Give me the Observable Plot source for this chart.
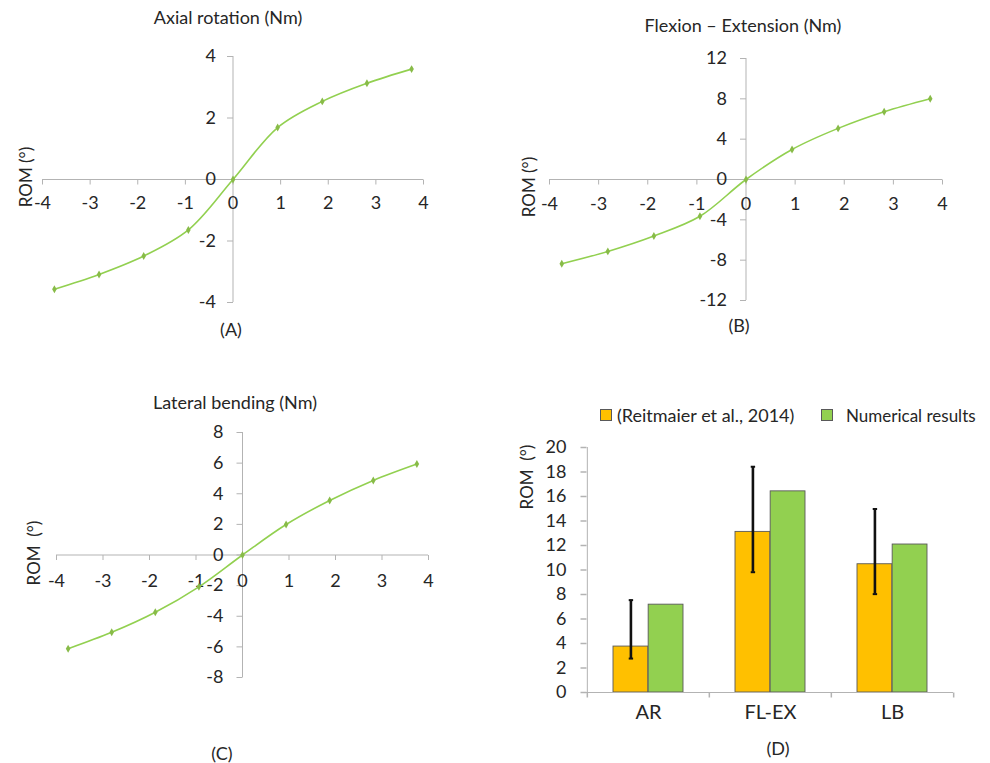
<!DOCTYPE html>
<html>
<head>
<meta charset="utf-8">
<script src="https://cdn.jsdelivr.net/npm/d3@7"></script>
<script src="https://cdn.jsdelivr.net/npm/@observablehq/plot@0.6"></script>
<style>
  html, body { margin: 0; padding: 0; background: #fff; }
  #root { position: relative; width: 990px; height: 763px; font-family: Lato, sans-serif; color: #262626; overflow: hidden; }
  .panel { position: absolute; }
  .lbl { position: absolute; white-space: pre; transform: translate(-50%, -50%); line-height: 1; }
  .sw { position: absolute; width: 10px; height: 10px; border: 1px solid #595959; }
</style>
</head>
<body>
<div id="root"></div>
<script>
// ---------------- data ----------------
const torque = [-3.75, -2.8125, -1.875, -0.9375, 0, 0.9375, 1.875, 2.8125, 3.75];
const romAR = [-3.57, -3.09, -2.49, -1.64, 0, 1.69, 2.54, 3.13, 3.59];
const romFE = [-8.35, -7.13, -5.6, -3.65, 0, 2.98, 5.07, 6.72, 8.01];
const romLB = [-6.12, -5.05, -3.74, -2.08, 0, 1.99, 3.56, 4.87, 5.94];
const xTicks = [-4, -3, -2, -1, 0, 1, 2, 3, 4];
const yTicksAR = [-4, -2, 0, 2, 4];
const yTicksFE = [-12, -8, -4, 0, 4, 8, 12];
const yTicksLB = [-8, -6, -4, -2, 0, 2, 4, 6, 8];

const categories = ["AR", "FL-EX", "LB"];
const reference = [3.75, 13.11, 10.47];
const referenceLow = [2.77, 9.82, 8.03];
const referenceHigh = [7.54, 18.43, 14.98];
const numerical = [7.17, 16.42, 12.08];
const barTicks = [0, 2, 4, 6, 8, 10, 12, 14, 16, 18, 20];
const seriesNames = ["(Reitmaier et al., 2014)", "Numerical results"];

// ---------------- styles ----------------
const FONT = "Lato, sans-serif";
const TEXT = "#262626";
const AXIS = "#b3b3b3";
const LINE_GREEN = "#92D050";
const MARK_GREEN = "#88bb48";
const YELLOW = "#FFC000";
const GREEN = "#92D050";
const BAR_STROKE = "#595959";
const TICK_FS = "18px";

const root = document.getElementById("root");

function label(text, cx, cy, opts = {}) {
  const d = document.createElement("div");
  d.className = "lbl";
  d.textContent = text;
  d.style.left = cx + "px";
  d.style.top = cy + "px";
  d.style.fontSize = (opts.size || 18) + "px";
  if (opts.rotate) d.style.transform = "translate(-50%, -50%) rotate(-90deg)";
  if (opts.left) { d.style.transform = "translate(0, -50%)"; }
  root.appendChild(d);
  return d;
}

// custom tick symbols (drawn relative to the scaled point)
const tickDown = {draw(ctx) { ctx.moveTo(0, 0); ctx.lineTo(0, 5); }};
const tickLeft = {draw(ctx) { ctx.moveTo(0, 0); ctx.lineTo(-6, 0); }};
const capLine = {draw(ctx) { ctx.moveTo(-2.2, 0); ctx.lineTo(2.2, 0); }};

function linePanel({left, top, width, height, margins, yTicks, values, xLabelDy, yLabelDx}) {
  const rows = torque.map((t, i) => ({t, v: values[i]}));
  const svg = Plot.plot({
    width, height,
    marginLeft: margins[0], marginRight: margins[1], marginTop: margins[2], marginBottom: margins[3],
    x: {domain: [xTicks[0], xTicks[xTicks.length - 1]], axis: null},
    y: {domain: [yTicks[0], yTicks[yTicks.length - 1]], axis: null},
    style: {fontFamily: FONT, fontSize: TICK_FS, color: TEXT, background: "transparent", overflow: "visible"},
    marks: [
      Plot.ruleY([0], {stroke: AXIS, strokeWidth: 1}),
      Plot.ruleX([0], {stroke: AXIS, strokeWidth: 1}),
      Plot.dot(xTicks, {x: d => d, y: 0, symbol: tickDown, stroke: AXIS, fill: "none", strokeWidth: 1}),
      Plot.dot(yTicks, {x: 0, y: d => d, symbol: tickLeft, stroke: AXIS, fill: "none", strokeWidth: 1}),
      Plot.text(xTicks, {x: d => d, y: 0, dy: xLabelDy, text: d => String(d), fill: TEXT}),
      Plot.text(yTicks, {x: 0, y: d => d, dx: yLabelDx, text: d => String(d), textAnchor: "end", fill: TEXT}),
      Plot.line(rows, {x: "t", y: "v", curve: "catmull-rom", stroke: LINE_GREEN, strokeWidth: 1.6}),
      Plot.dot(rows, {x: "t", y: "v", symbol: "diamond", r: 2.4, fill: MARK_GREEN, stroke: "none"})
    ]
  });
  const holder = document.createElement("div");
  holder.className = "panel";
  holder.style.left = left + "px";
  holder.style.top = top + "px";
  holder.appendChild(svg);
  root.appendChild(holder);
}

// Panel A
linePanel({left: 0, top: 0, width: 450, height: 340, margins: [42, 27, 56, 38],
  yTicks: yTicksAR, values: romAR, xLabelDy: 24, yLabelDx: -17});
label("Axial rotation (Nm)", 228, 17, {size: 18});
label("ROM (°)", 25, 177, {rotate: true, size: 17});
label("(A)", 231, 329, {size: 18});

// Panel B
linePanel({left: 500, top: 0, width: 490, height: 340, margins: [49, 48, 58, 40],
  yTicks: yTicksFE, values: romFE, xLabelDy: 25, yLabelDx: -19});
label("Flexion \u2013 Extension (Nm)", 743, 25, {size: 18});
label("ROM (°)", 528, 187, {rotate: true, size: 17});
label("(B)", 739, 325, {size: 18});

// Panel C
linePanel({left: 0, top: 380, width: 450, height: 383, margins: [56, 22, 52, 86],
  yTicks: yTicksLB, values: romLB, xLabelDy: 26, yLabelDx: -19});
label("Lateral bending (Nm)", 235, 402, {size: 18});
label("ROM\u00a0\u00a0(°)", 33, 553, {rotate: true, size: 17});
label("(C)", 222, 753, {size: 18});

// Panel D (bar chart)
(function () {
  const width = 490, height = 373, mL = 86, mR = 37, mT = 57, mB = 71;
  const bw = (width - mL - mR) / categories.length;
  const outer = 26;
  const rows = categories.map((c, i) => ({c, ref: reference[i], lo: referenceLow[i], hi: referenceHigh[i], num: numerical[i]}));
  const refCenterOffset = -(bw / 2 - (outer + (bw / 2 - outer) / 2));
  const svg = Plot.plot({
    width, height, marginLeft: mL, marginRight: mR, marginTop: mT, marginBottom: mB,
    x: {type: "band", domain: categories, padding: 0, axis: null},
    y: {domain: [barTicks[0], barTicks[barTicks.length - 1]], axis: null},
    style: {fontFamily: FONT, fontSize: TICK_FS, color: TEXT, background: "transparent", overflow: "visible"},
    marks: [
      Plot.barY(rows, {x: "c", y: "ref", fill: YELLOW, stroke: BAR_STROKE, strokeWidth: 0.9, insetLeft: outer, insetRight: bw / 2}),
      Plot.barY(rows, {x: "c", y: "num", fill: GREEN, stroke: BAR_STROKE, strokeWidth: 0.9, insetLeft: bw / 2, insetRight: outer}),
      Plot.ruleY([0], {stroke: AXIS, strokeWidth: 1}),
      Plot.ruleX([categories[0]], {x: d => d, dx: -bw / 2, stroke: AXIS, strokeWidth: 1}),
      Plot.dot(categories, {x: d => d, y: 0, dx: -bw / 2, symbol: tickDown, stroke: AXIS, fill: "none"}),
      Plot.dot([categories[categories.length - 1]], {x: d => d, y: 0, dx: bw / 2, symbol: tickDown, stroke: AXIS, fill: "none"}),
      Plot.dot(barTicks, {y: d => d, frameAnchor: "left", symbol: tickLeft, stroke: AXIS, fill: "none"}),
      Plot.text(barTicks, {y: d => d, frameAnchor: "left", dx: -20, textAnchor: "end", text: d => String(d), fill: TEXT}),
      Plot.text(categories, {x: d => d, y: 0, dy: 20, text: d => d, fill: TEXT, fontSize: 20}),
      Plot.ruleX(rows, {x: "c", y1: "lo", y2: "hi", dx: refCenterOffset, stroke: "#111", strokeWidth: 2.6}),
      Plot.dot(rows, {x: "c", y: "hi", dx: refCenterOffset, symbol: capLine, stroke: "#111", strokeWidth: 2, fill: "none"}),
      Plot.dot(rows, {x: "c", y: "lo", dx: refCenterOffset, symbol: capLine, stroke: "#111", strokeWidth: 2, fill: "none"})
    ]
  });
  const holder = document.createElement("div");
  holder.className = "panel";
  holder.style.left = "500px";
  holder.style.top = "390px";
  holder.appendChild(svg);
  root.appendChild(holder);
})();
label("ROM\u00a0\u00a0(°)", 526, 477, {rotate: true, size: 17});
label("(D)", 778, 748, {size: 18});

// legend
[[YELLOW, 600, 617, 18], [GREEN, 821, 846, 17]].forEach(([color, sx, tx, fs], i) => {
  const s = document.createElement("div");
  s.className = "sw";
  s.style.left = sx + "px";
  s.style.top = "409px";
  s.style.background = color;
  root.appendChild(s);
  label(seriesNames[i], tx, 415, {left: true, size: fs});
});
</script>
</body>
</html>
